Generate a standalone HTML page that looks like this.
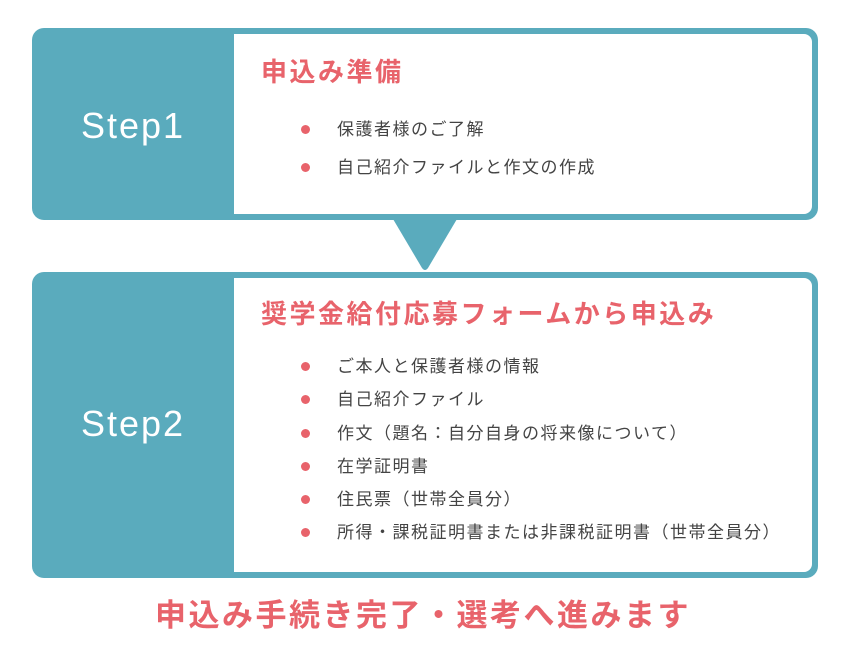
<!DOCTYPE html>
<html><head><meta charset="utf-8"><style>
body{margin:0;width:850px;height:650px;background:#fff;position:relative;font-family:"Liberation Sans","Noto Sans CJK JP",sans-serif;overflow:hidden}
.box{position:absolute;left:32px;width:786px;background:#5aabbd;border-radius:12px}
.in{position:absolute;left:202px;top:6px;right:6px;bottom:6px;background:#fff;border-radius:0 8px 8px 0}
.step{position:absolute;left:0;width:202px;text-align:center;color:#fff;font-size:36px;font-weight:normal;letter-spacing:2px}
.h{position:absolute;left:27px;color:#e8636b;font-size:26px;font-weight:bold;white-space:nowrap;letter-spacing:2.5px}
.li{position:absolute;left:103px;color:#444;font-size:17px;white-space:nowrap;line-height:20px;letter-spacing:1.5px}
.li:before{content:"";position:absolute;left:-36px;top:5px;width:9px;height:9px;border-radius:50%;background:#e8636b}
</style></head><body>
<div class="box" style="top:28px;height:192px">
 <div class="step" style="top:77px">Step1</div>
 <div class="in">
  <div class="h" style="top:18px">申込み準備</div>
  <div class="li" style="top:86px">保護者様のご了解</div>
  <div class="li" style="top:124px">自己紹介ファイルと作文の作成</div>
 </div>
</div>
<svg style="position:absolute;left:0;top:0" width="850" height="650"><path d="M393 219 L457 219 L428 268 Q425 272 422 268 Z" fill="#5aabbd"/></svg>
<div class="box" style="top:272px;height:306px">
 <div class="step" style="top:131px">Step2</div>
 <div class="in">
  <div class="h" style="top:16px">奨学金給付応募フォームから申込み</div>
  <div class="li" style="top:79px">ご本人と保護者様の情報</div>
  <div class="li" style="top:112px">自己紹介ファイル</div>
  <div class="li" style="top:146px">作文（題名：自分自身の将来像について）</div>
  <div class="li" style="top:179px">在学証明書</div>
  <div class="li" style="top:212px">住民票（世帯全員分）</div>
  <div class="li" style="top:245px">所得・課税証明書または非課税証明書（世帯全員分）</div>
 </div>
</div>
<div style="position:absolute;top:590px;left:0;width:846px;text-align:center;color:#e8636b;font-size:31px;font-weight:bold;letter-spacing:2.5px">申込み手続き完了・選考へ進みます</div>
</body></html>
